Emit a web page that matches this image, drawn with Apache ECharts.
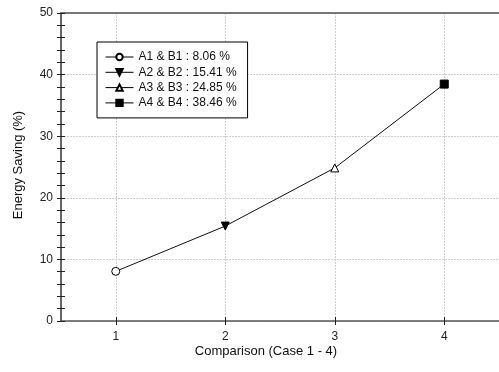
<!DOCTYPE html>
<html>
<head>
<meta charset="utf-8">
<script src="https://cdn.jsdelivr.net/npm/echarts@6/dist/echarts.min.js"></script>
<style>html,body{margin:0;padding:0;background:#fff;}#c{width:499px;height:372px;}</style>
</head>
<body>
<div id="c"></div>
<script>
const categories = [1, 2, 3, 4];
const values = [8.06, 15.41, 24.85, 38.46];
const legendNames = ['A1 & B1 : 8.06 %', 'A2 & B2 : 15.41 %', 'A3 & B3 : 24.85 %', 'A4 & B4 : 38.46 %'];
const yTicks = [0, 10, 20, 30, 40, 50];
const xTitle = 'Comparison (Case 1 - 4)';
const yTitle = 'Energy Saving (%)';

const symbols = ['circle', 'triangle', 'triangle', 'rect'];
const rotates = [0, 180, 0, 0];
const fills = ['#fff', '#000', '#fff', '#000'];
const font = 'Arial, "Liberation Sans", sans-serif';
const axisColor = '#555';

const chart = echarts.init(document.getElementById('c'), null, {renderer: 'canvas'});

const markerSeries = categories.map((c, i) => ({
  name: legendNames[i],
  type: 'line',
  data: [[c, values[i]]],
  symbol: symbols[i],
  symbolRotate: rotates[i],
  symbolSize: 8,
  showSymbol: true,
  lineStyle: {color: '#000', width: 1},
  itemStyle: {color: fills[i], borderColor: '#000', borderWidth: 1},
  z: 5,
  silent: true,
  animation: false
}));

const option = {
  animation: false,
  grid: {left: 61, top: 13, width: 442, height: 308, containLabel: false},
  legend: {
    orient: 'vertical',
    left: 97, top: 42,
    padding: [9, 11, 9, 8],
    itemGap: 3.3,
    itemWidth: 28, itemHeight: 8,
    borderColor: '#000', borderWidth: 1,
    backgroundColor: '#fff',
    lineStyle: {width: 1},
    textStyle: {fontFamily: font, fontSize: 12, color: '#111', lineHeight: 12},
    data: legendNames
  },
  xAxis: [
    {
      type: 'value', min: 0.5, max: 4.5, position: 'bottom',
      axisLine: {show: true, lineStyle: {color: axisColor, width: 1.5}},
      axisTick: {show: true, length: 4, inside: false, customValues: categories, lineStyle: {color: '#222'}},
      axisLabel: {customValues: categories, fontFamily: font, fontSize: 12, color: '#222', margin: 10},
      splitLine: {show: true, lineStyle: {color: '#cfcfcf', type: [2, 1], width: 1}}
    },
    {
      type: 'value', min: 0.5, max: 4.5, position: 'bottom',
      axisLine: {show: false},
      axisTick: {show: true, length: 4, inside: true, customValues: categories, lineStyle: {color: '#222'}},
      axisLabel: {show: false},
      splitLine: {show: false}
    },
    {
      type: 'value', min: 0.5, max: 4.5, position: 'top',
      axisLine: {show: true, lineStyle: {color: '#777', width: 2}},
      axisTick: {show: false}, axisLabel: {show: false}, splitLine: {show: false}
    }
  ],
  yAxis: [
    {
      type: 'value', min: 0, max: 50, interval: 10, position: 'left',
      axisLine: {show: true, lineStyle: {color: '#333', width: 1.5}},
      axisTick: {show: true, length: 4, inside: false, lineStyle: {color: '#222'}},
      minorTick: {show: true, splitNumber: 5, length: 4, lineStyle: {color: '#222'}},
      axisLabel: {fontFamily: font, fontSize: 12, color: '#222', margin: 8},
      splitLine: {show: true, lineStyle: {color: '#cfcfcf', type: [2, 1], width: 1}}
    },
    {
      type: 'value', min: 0, max: 50, interval: 10, position: 'left',
      axisLine: {show: false},
      axisTick: {show: true, length: 4, inside: true, lineStyle: {color: '#222'}},
      minorTick: {show: true, splitNumber: 5, length: 4, lineStyle: {color: '#222'}},
      axisLabel: {show: false},
      splitLine: {show: false}
    }
  ],
  graphic: [
    {type: 'text', x: 266, y: 351, style: {text: xTitle, font: '13px ' + font, fill: '#111', align: 'center', verticalAlign: 'middle'}},
    {type: 'text', x: 18, y: 165, rotation: Math.PI / 2, style: {text: yTitle, font: '13px ' + font, fill: '#111', align: 'center', verticalAlign: 'middle'}}
  ],
  series: [
    {
      type: 'line',
      data: categories.map((c, i) => [c, values[i]]),
      symbol: 'none',
      lineStyle: {color: '#111', width: 1},
      z: 3, silent: true, animation: false
    }
  ].concat(markerSeries)
};
chart.setOption(option);
</script>
</body>
</html>
